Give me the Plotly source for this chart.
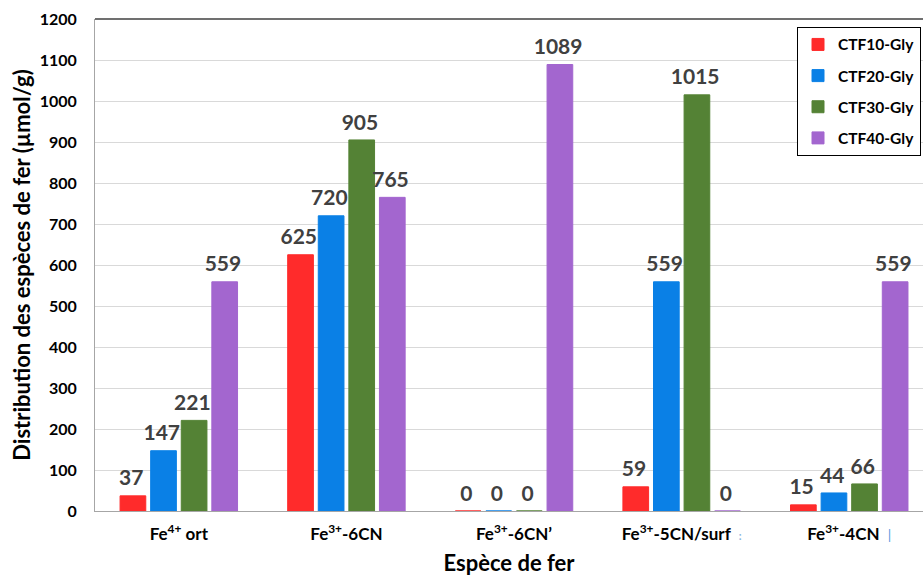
import plotly.graph_objects as go

categories = ["Fe<sup>4+</sup> ort", "Fe<sup>3+</sup>-6CN", "Fe<sup>3+</sup>-6CN’",
              "Fe<sup>3+</sup>-5CN/surf", "Fe<sup>3+</sup>-4CN"]
# the original labels carry small stray marks after two of the names
tick_labels = [
    "Fe<sup>4+</sup> ort",
    "Fe<sup>3+</sup>-6CN",
    "Fe<sup>3+</sup>-6CN’",
    "Fe<sup>3+</sup>-5CN/surf  <span style='color:#8AB4E0;font-size:11px'>:</span>",
    "Fe<sup>3+</sup>-4CN  <span style='color:#5A9AE0;font-size:14px;font-weight:normal'>|</span>",
]
ctf10 = [37, 625, 0, 59, 15]
ctf20 = [147, 720, 0, 559, 44]
ctf30 = [221, 905, 0, 1015, 66]
ctf40 = [559, 765, 1089, 0, 559]

series = [
    ("CTF10-Gly", ctf10, "#FF2B2B"),
    ("CTF20-Gly", ctf20, "#0A80E6"),
    ("CTF30-Gly", ctf30, "#548235"),
    ("CTF40-Gly", ctf40, "#A366CF"),
]

FONT = "Lato, 'Open Sans', sans-serif"

fig = go.Figure()
for name, vals, col in series:
    fig.add_trace(go.Bar(
        x=categories,
        y=vals,
        name=name,
        legendgroup=name,
        marker=dict(color=col, line=dict(color=col, width=1)),
        text=[str(v) for v in vals],
        # empty subscript lifts the label a little further off the bar
        texttemplate="%{text}<sub>\u00a0</sub>",
        textposition="outside",
        constraintext="none",
        cliponaxis=False,
        textfont=dict(family=FONT, size=21, color="#404040", weight="bold"),
    ))

# dark frame line along the top of the plot area
fig.add_shape(type="line", xref="paper", yref="paper",
              x0=0, x1=1, y0=1, y1=1,
              line=dict(color="#404040", width=1.5))

fig.update_layout(
    barmode="group",
    bargap=0.27,
    bargroupgap=0.16,
    width=923,
    height=576,
    margin=dict(l=95, r=0, t=19, b=65),
    paper_bgcolor="white",
    plot_bgcolor="white",
    font=dict(family=FONT, color="black"),
    showlegend=True,
    legend=dict(
        x=0.9976, xanchor="right",
        y=0.984, yanchor="top",
        bgcolor="white",
        bordercolor="black",
        borderwidth=1,
        font=dict(family=FONT, size=15.5, color="black", weight="bold"),
        tracegroupgap=8,
    ),
    xaxis=dict(
        range=[-0.5, 4.44],
        automargin="bottom",
        showline=True,
        linecolor="#A6A6A6",
        linewidth=1,
        tickmode="array",
        tickvals=categories,
        ticktext=tick_labels,
        tickfont=dict(family=FONT, size=17, color="black", weight="bold"),
        ticks="",
        ticklabelstandoff=8,
        title=dict(text="Espèce de fer", standoff=16,
                   font=dict(family=FONT, size=22, color="black", weight="bold")),
    ),
    yaxis=dict(
        range=[0, 1200],
        dtick=100,
        automargin="left",
        showline=True,
        linecolor="#A6A6A6",
        linewidth=1,
        showgrid=True,
        gridcolor="#D9D9D9",
        gridwidth=1,
        zeroline=False,
        tickfont=dict(family=FONT, size=16, color="black", weight="bold"),
        ticks="",
        ticklabelstandoff=14,
        title=dict(text="Distribution des espèces de fer (µmol/g)", standoff=2,
                   font=dict(family=FONT, size=22, color="black", weight="bold")),
    ),
)

# drop the default page margin so the figure sits at the window's corner
fig.write_html("out.html",
               config={"displayModeBar": False},
               post_script="document.body.style.margin='0';document.body.style.overflow='hidden';")
